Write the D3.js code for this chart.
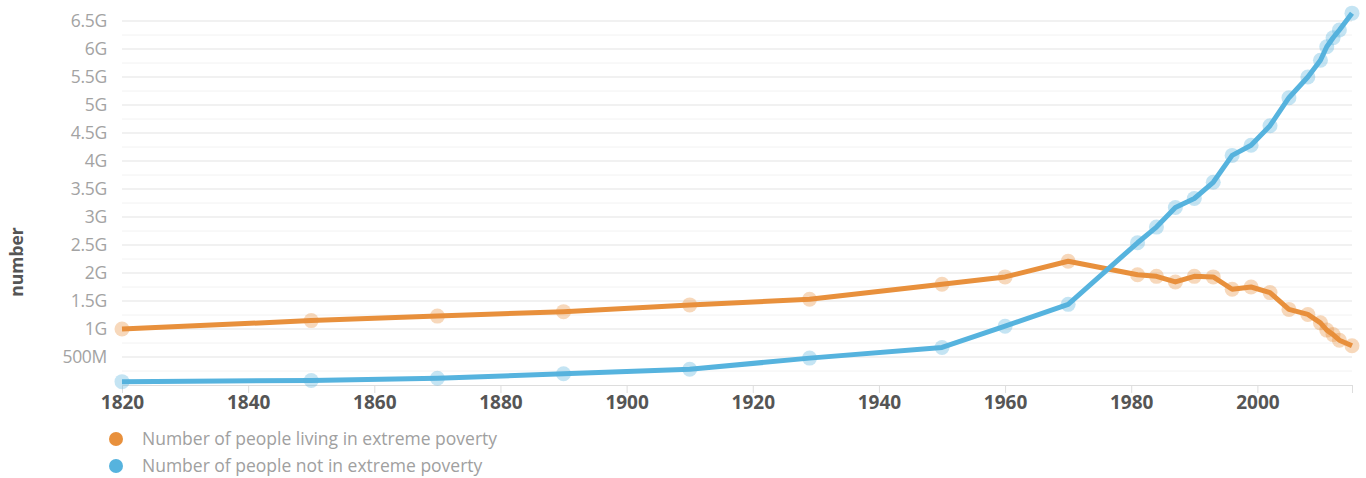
<!DOCTYPE html>
<html>
<head>
<meta charset="utf-8">
<script src="https://cdn.jsdelivr.net/npm/d3@7"></script>
<style>
  body { margin: 0; background: #fff; }
  svg text { font-family: "Open Sans", sans-serif; }
</style>
</head>
<body>
<div id="chart"></div>
<script>
// 数据（单位：人）
const years = [1820, 1850, 1870, 1890, 1910, 1929, 1950, 1960, 1970, 1981, 1984, 1987,
  1990, 1993, 1996, 1999, 2002, 2005, 2008, 2010, 2011, 2012, 2013, 2015];
const poverty = [1.00, 1.15, 1.23, 1.31, 1.43, 1.53, 1.80, 1.93, 2.21, 1.97, 1.94, 1.84,
  1.94, 1.93, 1.71, 1.75, 1.65, 1.35, 1.26, 1.11, 0.98, 0.90, 0.80, 0.70].map(v => v * 1e9);
const notPoverty = [0.06, 0.08, 0.12, 0.20, 0.28, 0.48, 0.67, 1.05, 1.44, 2.54, 2.82, 3.17,
  3.33, 3.62, 4.10, 4.28, 4.63, 5.13, 5.50, 5.80, 6.04, 6.20, 6.34, 6.64].map(v => v * 1e9);
const xTicks = [1820, 1840, 1860, 1880, 1900, 1920, 1940, 1960, 1980, 2000];
const yTicks = d3.range(1, 14).map(i => i * 5e8);
const yMinor = d3.range(0, 14).map(i => i * 5e8 + 2.5e8);
const seriesNames = ["Number of people living in extreme poverty", "Number of people not in extreme poverty"];
const seriesColors = ["#e8903c", "#56b3de"];

const W = 1366, H = 478;
const svg = d3.select("#chart").append("svg").attr("width", W).attr("height", H);

const x = d3.scaleLinear().domain([1820, 2015]).range([122, 1352]);
const y = d3.scaleLinear().domain([0, 6.7e9]).range([385, 385 - 6.7 * 56]);

// 网格线
svg.append("g").selectAll("line")
  .data(yMinor.filter(v => v < 6.7e9))
  .join("line")
  .attr("x1", x.range()[0]).attr("x2", x.range()[1])
  .attr("y1", d => y(d)).attr("y2", d => y(d))
  .attr("stroke", "#f2f2f2").attr("stroke-width", 1);

svg.append("g").selectAll("line")
  .data(yTicks)
  .join("line")
  .attr("x1", x.range()[0]).attr("x2", x.range()[1])
  .attr("y1", d => y(d)).attr("y2", d => y(d))
  .attr("stroke", "#e3e3e3").attr("stroke-width", 1);

// y轴标签
const fmt = v => v >= 1e9 ? (v / 1e9) + "G" : (v / 1e6) + "M";
svg.append("g").selectAll("text")
  .data(yTicks)
  .join("text")
  .attr("x", 107).attr("y", d => y(d))
  .attr("dy", "0.35em")
  .attr("text-anchor", "end")
  .style("font-size", "17.5px")
  .style("letter-spacing", "-0.3px")
  .style("fill", "#a3a3a3")
  .text(fmt);

svg.append("text")
  .attr("transform", "translate(23,262) rotate(-90)")
  .attr("text-anchor", "middle")
  .style("font-size", "17.5px")
  .style("font-weight", "bold")
  .style("fill", "#555")
  .text("number");

// x轴
svg.append("g")
  .attr("transform", `translate(0,${y(0)})`)
  .call(d3.axisBottom(x).tickValues(xTicks.concat([2015])).tickSize(8).tickFormat(d => d === 2015 ? "" : d))
  .call(g => g.select(".domain").attr("stroke", "#ddd").attr("d", `M${x.range()[0]},0.5H${x.range()[1]}`))
  .call(g => g.selectAll(".tick line").attr("stroke", "#ddd"))
  .call(g => g.selectAll(".tick text")
    .attr("y", 11)
    .style("font-family", "'Open Sans', sans-serif")
    .style("font-size", "19px")
    .style("font-weight", "bold")
    .style("fill", "#555"));

// 折线与点
const line = d3.line().x(d => x(d[0])).y(d => y(d[1]));
[poverty, notPoverty].forEach((vals, i) => {
  const pts = years.map((yr, j) => [yr, vals[j]]);
  svg.append("path")
    .datum(pts)
    .attr("d", line)
    .attr("fill", "none")
    .attr("stroke", seriesColors[i])
    .attr("stroke-width", 5)
    .attr("stroke-linejoin", "round");
  svg.append("g").selectAll("circle")
    .data(pts)
    .join("circle")
    .attr("cx", d => x(d[0])).attr("cy", d => y(d[1]))
    .attr("r", 7.5)
    .attr("fill", seriesColors[i])
    .attr("fill-opacity", 0.35);
});

// 图例
const legend = svg.append("g").selectAll("g")
  .data(seriesNames)
  .join("g")
  .attr("transform", (d, i) => `translate(116,${439 + i * 27})`);
legend.append("circle").attr("r", 7).attr("fill", (d, i) => seriesColors[i]);
legend.append("text")
  .attr("x", 26).attr("dy", "0.35em")
  .style("font-size", "17.5px")
  .style("fill", "#a0a0a0")
  .text(d => d);
</script>
</body>
</html>
